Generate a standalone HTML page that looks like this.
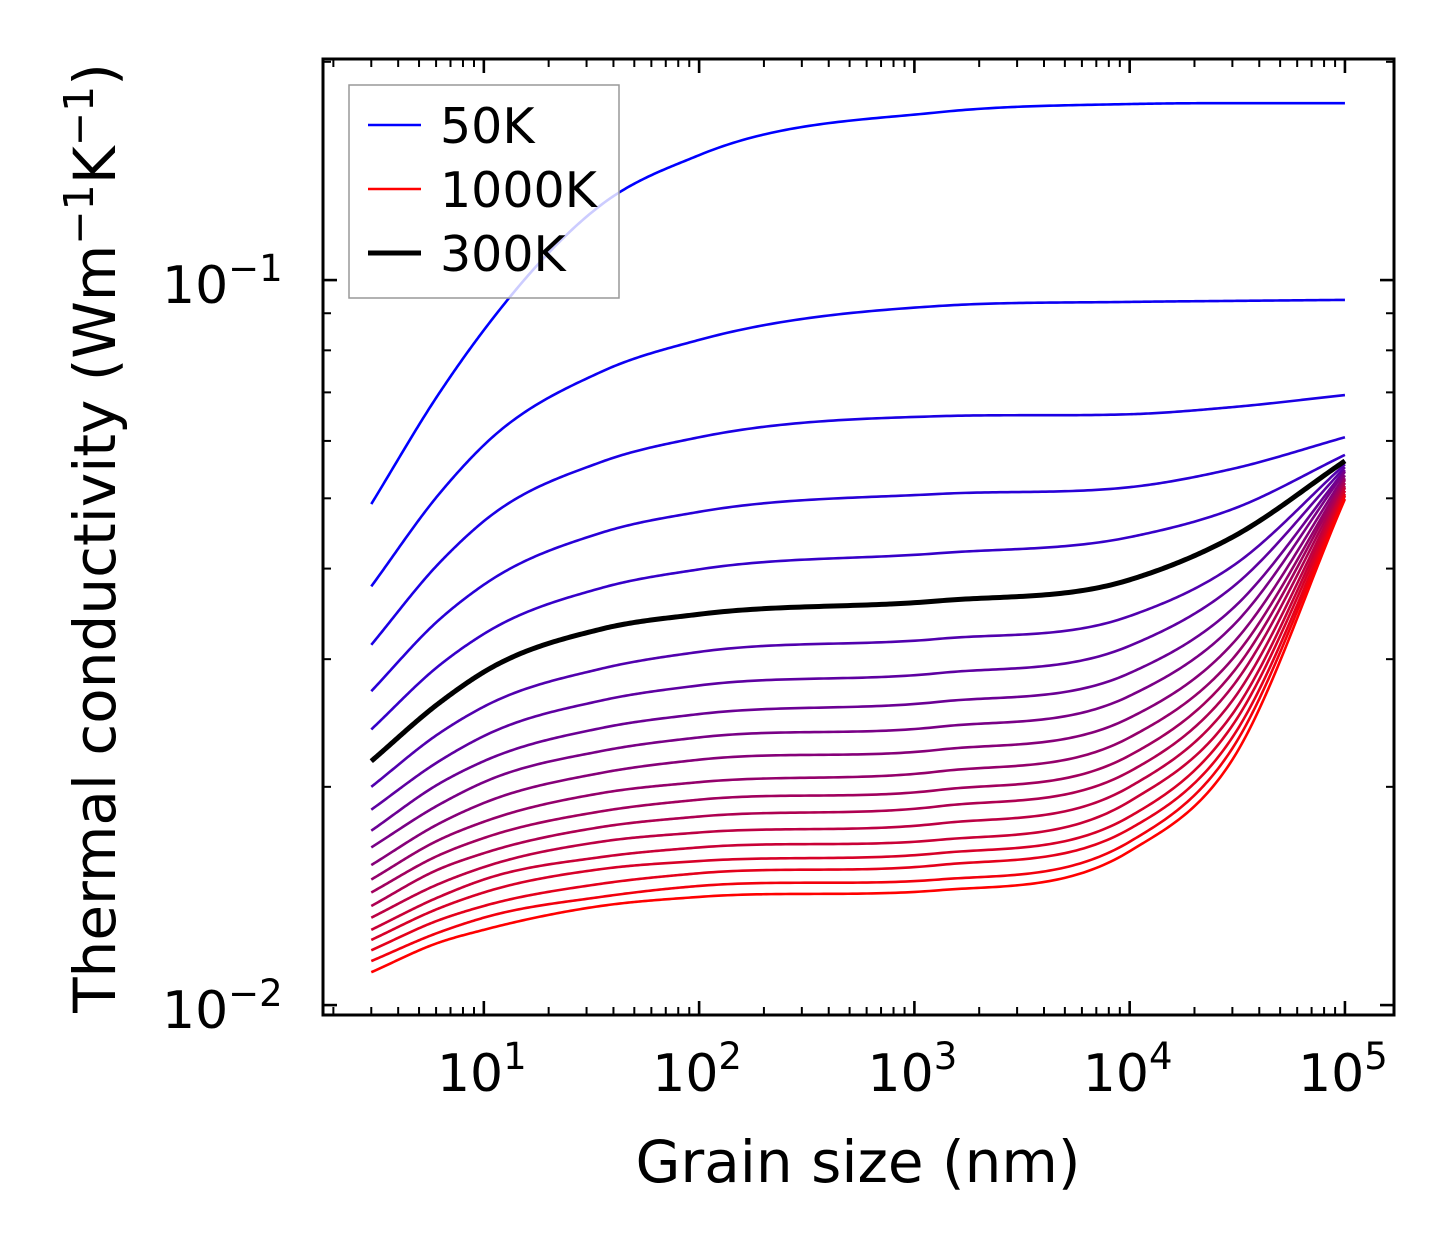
<!DOCTYPE html>
<html><head><meta charset="utf-8"><style>
html,body{margin:0;padding:0;background:#fff;}
svg{display:block;font-family:"DejaVu Sans","Liberation Sans",sans-serif;}
</style></head><body>
<svg id="chart" width="1454" height="1254" viewBox="0 0 1454 1254" xmlns="http://www.w3.org/2000/svg">
<rect width="1454" height="1254" fill="#fff"/>
<g id="curves"></g>
<g id="axes"></g>
<g id="legend"></g>
</svg>
<script>
const grainSizes = [3, 6.2, 10, 35, 100, 1300, 1e4, 3e4, 1e5];
const temperatures = [50,100,150,200,250,300,350,400,450,500,550,600,650,700,750,800,850,900,950,1000];
const k50 = [0.0491,0.0698,0.0853,0.1269,0.1487,0.1704,0.1749,0.1754,0.1754];
const k100 = [0.0378,0.0507,0.0592,0.0747,0.0827,0.0921,0.0933,0.0936,0.0939];
const k150 = [0.0314,0.0407,0.0465,0.0561,0.0607,0.0649,0.0653,0.0668,0.0694];
const k200 = [0.0271,0.0340,0.0380,0.0448,0.0479,0.0507,0.0518,0.0549,0.0607];
const k250 = [0.0240,0.0294,0.0325,0.0376,0.0399,0.0420,0.0442,0.0483,0.0574];
const k300 = [0.0217,0.0261,0.0288,0.0330,0.0346,0.0361,0.0386,0.0442,0.0563];
const k350 = [0.0200,0.0237,0.0258,0.0291,0.0307,0.0320,0.0344,0.0403,0.0557];
const k400 = [0.0186,0.0217,0.0235,0.0263,0.0276,0.0287,0.0313,0.0377,0.0552];
const k450 = [0.0174,0.0202,0.0217,0.0241,0.0252,0.0262,0.0287,0.0352,0.0547];
const k500 = [0.0165,0.0189,0.0203,0.0224,0.0234,0.0242,0.0267,0.0333,0.0544];
const k550 = [0.0156,0.0178,0.0190,0.0209,0.0218,0.0225,0.0249,0.0315,0.0538];
const k600 = [0.0149,0.0169,0.0179,0.0196,0.0203,0.0210,0.0234,0.0300,0.0533];
const k650 = [0.0143,0.0161,0.0170,0.0185,0.0192,0.0198,0.0221,0.0287,0.0530];
const k700 = [0.0137,0.0154,0.0162,0.0176,0.0182,0.0188,0.0210,0.0275,0.0525];
const k750 = [0.0132,0.0147,0.0155,0.0168,0.0173,0.0178,0.0200,0.0263,0.0520];
const k800 = [0.0127,0.0141,0.0149,0.0160,0.0165,0.0169,0.0191,0.0252,0.0517];
const k850 = [0.0123,0.0136,0.0143,0.0154,0.0158,0.0162,0.0182,0.0243,0.0512];
const k900 = [0.0119,0.0131,0.0137,0.0147,0.0152,0.0156,0.0175,0.0234,0.0507];
const k950 = [0.0115,0.0126,0.0132,0.0141,0.0146,0.0149,0.0168,0.0226,0.0504];
const k1000 = [0.0111,0.0122,0.0127,0.0137,0.0141,0.0144,0.0163,0.0218,0.0499];
const seriesK = [k50,k100,k150,k200,k250,k300,k350,k400,k450,k500,k550,k600,k650,k700,k750,k800,k850,k900,k950,k1000];
const highlightIndex = 5;
const legendLabels = ["50K","1000K","300K"];
const xTickExps = [1,2,3,4,5];
const yTickExps = [-1,-2];

const NS="http://www.w3.org/2000/svg";
const L=323,R=1394,T=59,B=1015;
const xmin=Math.log10(1.79), xmax=Math.log10(1.69e5);
const ymin=Math.log10(0.00969), ymax=Math.log10(0.2018);
function xs(v){return L+(Math.log10(v)-xmin)/(xmax-xmin)*(R-L);}
function ys(v){return B-(Math.log10(v)-ymin)/(ymax-ymin)*(B-T);}
function mk(tag,attrs,parent){const e=document.createElementNS(NS,tag);for(const k in attrs)e.setAttribute(k,attrs[k]);parent.appendChild(e);return e;}

// clamped Catmull-Rom interpolation in log-log space
function curvePath(xsArr,ksArr){
  const X=xsArr.map(v=>Math.log10(v)),Y=ksArr.map(v=>Math.log10(v));
  const n=X.length,d=[],h=[],m=new Array(n);
  for(let i=0;i<n-1;i++){h.push(X[i+1]-X[i]);d.push((Y[i+1]-Y[i])/h[i]);}
  for(let i=1;i<n-1;i++){
    if(d[i-1]*d[i]<=0){m[i]=0;continue;}
    let s=(d[i-1]*h[i]+d[i]*h[i-1])/(h[i-1]+h[i]);
    const lim=3*Math.min(Math.abs(d[i-1]),Math.abs(d[i]));
    if(Math.abs(s)>lim)s=Math.sign(s)*lim;
    m[i]=s;}
  m[0]=d[0];m[n-1]=d[n-2];
  let p="";
  for(let i=0;i<n-1;i++){const hh=h[i];const steps=50;
    for(let j=(i===0?0:1);j<=steps;j++){const t=j/steps,t2=t*t,t3=t2*t;
      const y=(2*t3-3*t2+1)*Y[i]+(t3-2*t2+t)*hh*m[i]+(-2*t3+3*t2)*Y[i+1]+(t3-t2)*hh*m[i+1];
      const x=X[i]+t*hh;
      p+=(p?"L":"M")+xs(Math.pow(10,x)).toFixed(2)+","+ys(Math.pow(10,y)).toFixed(2);}}
  return p;
}
const cg=document.getElementById("curves");
const clip=mk("clipPath",{id:"pc"},document.getElementById("chart"));
mk("rect",{x:L,y:T,width:R-L,height:B-T},clip);
cg.setAttribute("clip-path","url(#pc)");
seriesK.forEach((ks,i)=>{
  const f=i/(seriesK.length-1);
  const col="rgb("+Math.round(255*f)+",0,"+Math.round(255*(1-f))+")";
  const p=mk("path",{d:curvePath(grainSizes,ks),fill:"none",stroke:col,"stroke-width":2.6},cg);
  
  
});
const hp=mk("path",{d:curvePath(grainSizes,seriesK[highlightIndex]),fill:"none",stroke:"#000","stroke-width":5},cg);



const ag=document.getElementById("axes");
for(let e=0;e<=5;e++){for(let m=1;m<10;m++){const v=m*Math.pow(10,e);const x=xs(v);if(x<L+1||x>R-1)continue;const len=m===1?14:8;
  const t1=mk("line",{x1:x,x2:x,y1:B,y2:B-len,stroke:"#000","stroke-width":m===1?2.6:2},ag);
  
  const t2=mk("line",{x1:x,x2:x,y1:T,y2:T+len,stroke:"#000","stroke-width":m===1?2.6:2},ag);
  }}
for(let e=-3;e<=0;e++){for(let m=1;m<10;m++){const v=m*Math.pow(10,e);const y=ys(v);if(y<T+1||y>B-1)continue;const len=m===1?14:8;
  const t1=mk("line",{x1:L,x2:L+len,y1:y,y2:y,stroke:"#000","stroke-width":m===1?2.6:2},ag);
  
  const t2=mk("line",{x1:R,x2:R-len,y1:y,y2:y,stroke:"#000","stroke-width":m===1?2.6:2},ag);
  }}
const fr=mk("rect",{x:L,y:T,width:R-L,height:B-T,fill:"none",stroke:"#000","stroke-width":3},ag);

xTickExps.forEach(e=>{const x=xs(Math.pow(10,e));
  const t=mk("text",{x:x-2,y:1091,"font-size":52,"text-anchor":"middle"},ag);
  
  t.innerHTML='10<tspan dy="-22" font-size="37">'+e+'</tspan>';});
yTickExps.forEach(e=>{const y=ys(Math.pow(10,e));
  const t=mk("text",{x:162,y:y+23,"font-size":52},ag);
  
  t.innerHTML='10<tspan dy="-22" font-size="37">\u2212'+(-e)+'</tspan>';});
const xt=mk("text",{x:858,y:1182,"font-size":58,"text-anchor":"middle"},ag);

xt.textContent="Grain size (nm)";
const yt=mk("text",{x:0,y:0,"font-size":58,"text-anchor":"middle",transform:"translate(115,538) rotate(-90)"},ag);

yt.innerHTML='Thermal conductivity (Wm<tspan dy="-22" font-size="41">\u22121</tspan><tspan dy="22">K</tspan><tspan dy="-22" font-size="41">\u22121</tspan><tspan dy="22">)</tspan>';

const lg=document.getElementById("legend");
const box=mk("rect",{x:349,y:85,width:270,height:213,fill:"#fff","fill-opacity":0.8,stroke:"#999","stroke-width":1.5},lg);

const lcols=["rgb(0,0,255)","rgb(255,0,0)","#000"],lw=[2.6,2.6,5],ly=[125,189,253];
legendLabels.forEach((lab,i)=>{
  const ln=mk("line",{x1:368,x2:421,y1:ly[i],y2:ly[i],stroke:lcols[i],"stroke-width":lw[i]},lg);
  
  const tx=mk("text",{x:440,y:ly[i]+18,"font-size":49},lg);
  
  tx.textContent=lab;});
</script>
</body></html>
